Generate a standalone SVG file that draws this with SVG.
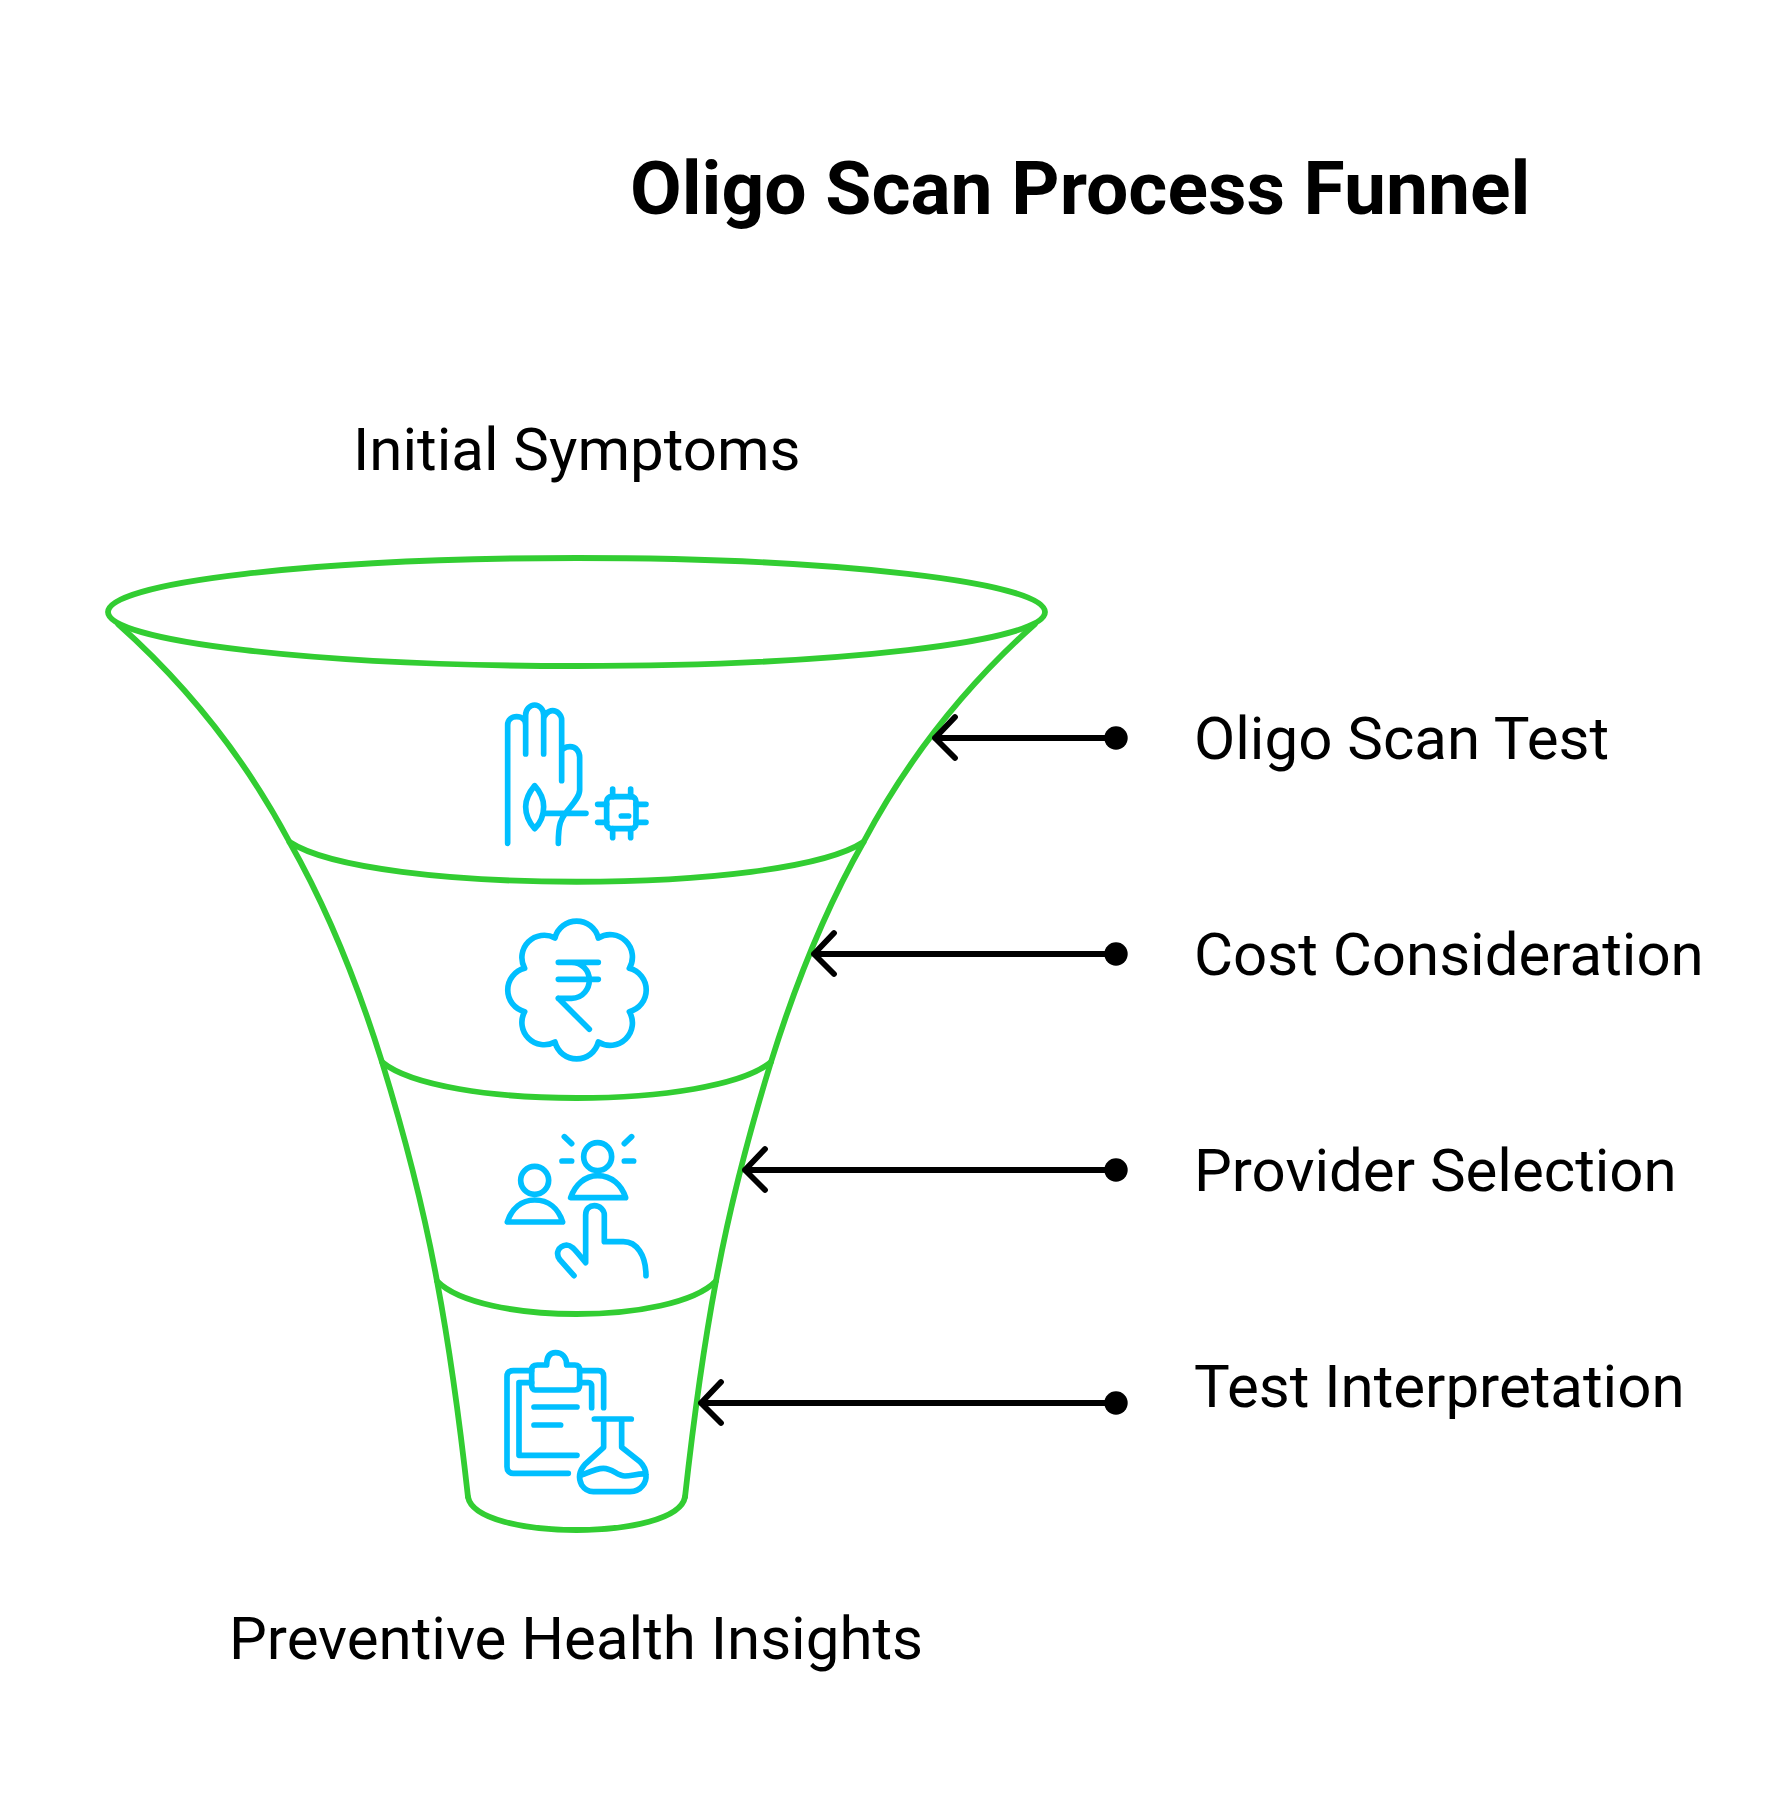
<svg xmlns="http://www.w3.org/2000/svg" width="1783" height="1818" viewBox="0 0 1783 1818">
<style>
text{font-family:Roboto,"Liberation Sans",sans-serif;fill:#000}
.t{font-size:75px;font-weight:700}
.l{font-size:60px}
.f{fill:none;stroke:#32cd32;stroke-width:5.8;stroke-linecap:round;stroke-linejoin:round}
.i{fill:none;stroke:#00bfff;stroke-width:17;stroke-linecap:round;stroke-linejoin:round}
.a{fill:none;stroke:#000;stroke-width:5.8;stroke-linecap:round;stroke-linejoin:round}
</style>
<rect width="1783" height="1818" fill="#fff"/>
<g id="title"><text class="t" x="630" y="214">Oligo Scan Process Funnel</text></g>
<g id="top-label"><text class="l" x="353" y="470">Initial Symptoms</text></g>
<g id="funnel">
<ellipse class="f" cx="576.5" cy="612" rx="468.5" ry="54"/>
<path class="f" d="M118,624 C190,688 247,762 289.5,842 C327,908 358,985 382,1062 C403,1130 423,1205 437,1281 C450,1350 460,1425 468,1497"/>
<path class="f" d="M1035,624 C963,688 906,762 863.5,842 C826,908 795,985 771,1062 C750,1130 730,1205 716,1281 C703,1350 693,1425 685,1497"/>
<path class="f" d="M289.5,842 C370,895 783,895 863.5,842"/>
<path class="f" d="M382,1062 C440,1110 713,1110 771,1062"/>
<path class="f" d="M437,1281 C480,1325 673,1325 716,1281"/>
<path class="f" d="M468,1497 C476,1541 677,1541 685,1497"/>
</g>
<g id="icon-symptoms" class="i" transform="translate(450,670) scale(.3333)">
<path d="M173,520 V165 C173,150 185,140 200,140 C215,140 227,150 227,165 V252 M227,165 V135 C227,118 240,105 254,105 C268,105 281,118 281,135 V252 M281,150 C281,135 295,122 308,122 C322,122 335,135 335,150 V332 M335,245 C335,238 345,230 360,230 C378,230 389,245 389,262 V360 C389,380 370,400 350,425 C335,445 325,455 325,520 M285,430 H408"/>
<path d="M254,347 C235,370 227,390 227,410 C227,435 240,460 254,476 C270,460 281,435 281,410 C281,390 270,365 254,347 Z"/>
<rect x="470" y="380" width="88" height="96" rx="14"/>
<path d="M488,357 V380 M542,357 V380 M488,476 V503 M542,476 V503 M443,403 H470 M443,457 H470 M558,403 H588 M558,457 H588 M514,438 H536"/>
</g>
<g id="icon-cost" class="i" transform="translate(450,900) scale(.3333)">
<path d="M315,114 A67,67 0 0 1 445,114 A67,67 0 0 1 538,205 A67,67 0 0 1 538,335 A67,67 0 0 1 445,426 A67,67 0 0 1 315,426 A67,67 0 0 1 224,335 A67,67 0 0 1 224,205 A67,67 0 0 1 315,114 Z"/>
<path d="M325,187 H445 M325,238 H445 M325,295 H365 C400,295 418,265 418,240 C418,210 395,187 365,187 M325,295 L418,388"/>
</g>
<g id="icon-provider" class="i" transform="translate(450,1120) scale(.3333)">
<circle cx="254" cy="181" r="42"/>
<path d="M172,306 H338 C325,265 295,240 254,240 C215,240 185,265 172,306 Z"/>
<circle cx="443" cy="110" r="42"/>
<path d="M362,233 H527 C515,195 485,167 443,167 C405,167 375,195 362,233 Z"/>
<path d="M343,50 L365,71 M545,50 L523,71 M336,123 H365 M523,123 H551"/>
<path d="M372,467 L330,420 C315,400 325,378 350,375 C365,375 375,390 407,428 V285 C407,265 420,257 433,257 C450,257 463,270 463,285 V365 H520 C560,365 588,405 588,467"/>
</g>
<g id="icon-interpretation" class="i" transform="translate(450,1340) scale(.3333)">
<path d="M355,400 H190 C178,400 171,392 171,380 V110 C171,98 178,92 190,92 H245 M390,92 H445 C455,92 461,98 461,110 V203"/>
<path d="M381,346 H207 V128 H245 M390,128 H415 C422,128 425,132 425,140 V203"/>
<path d="M290,75 C290,50 300,38 317,38 C335,38 350,50 350,75 H375 C385,75 389,80 389,90 V135 C389,145 385,150 375,150 H255 C250,150 245,145 245,135 V90 C245,80 250,75 262,75 Z"/>
<path d="M252,201 H381 M252,255 H332"/>
<path d="M433,237 H544 M461,237 V322 L405,373 C385,395 385,415 395,435 C405,450 415,455 430,455 H540 C575,455 590,425 588,405 C588,390 580,375 570,365 L515,322 V237"/>
<path d="M395,405 C420,395 440,385 460,385 C490,385 500,408 525,408 C545,408 565,400 585,402"/>
</g>
<g id="connectors">
<path class="a" d="M1116,738 H935 M955,717 L935,738 L955,758"/>
<circle cx="1116" cy="738" r="11.7"/>
<path class="a" d="M1116,954 H814 M834,933 L814,954 L834,974"/>
<circle cx="1116" cy="954" r="11.7"/>
<path class="a" d="M1116,1170 H745 M765,1149 L745,1170 L765,1190"/>
<circle cx="1116" cy="1170" r="11.7"/>
<path class="a" d="M1116,1403 H701 M721,1382 L701,1403 L721,1423"/>
<circle cx="1116" cy="1403" r="11.7"/>
</g>
<g id="label-1"><text class="l" x="1194" y="759">Oligo Scan Test</text></g>
<g id="label-2"><text class="l" x="1194" y="975">Cost Consideration</text></g>
<g id="label-3"><text class="l" x="1194" y="1191">Provider Selection</text></g>
<g id="label-4"><text class="l" x="1194" y="1407">Test Interpretation</text></g>
<g id="bottom-label"><text class="l" x="229" y="1659">Preventive Health Insights</text></g>
</svg>
